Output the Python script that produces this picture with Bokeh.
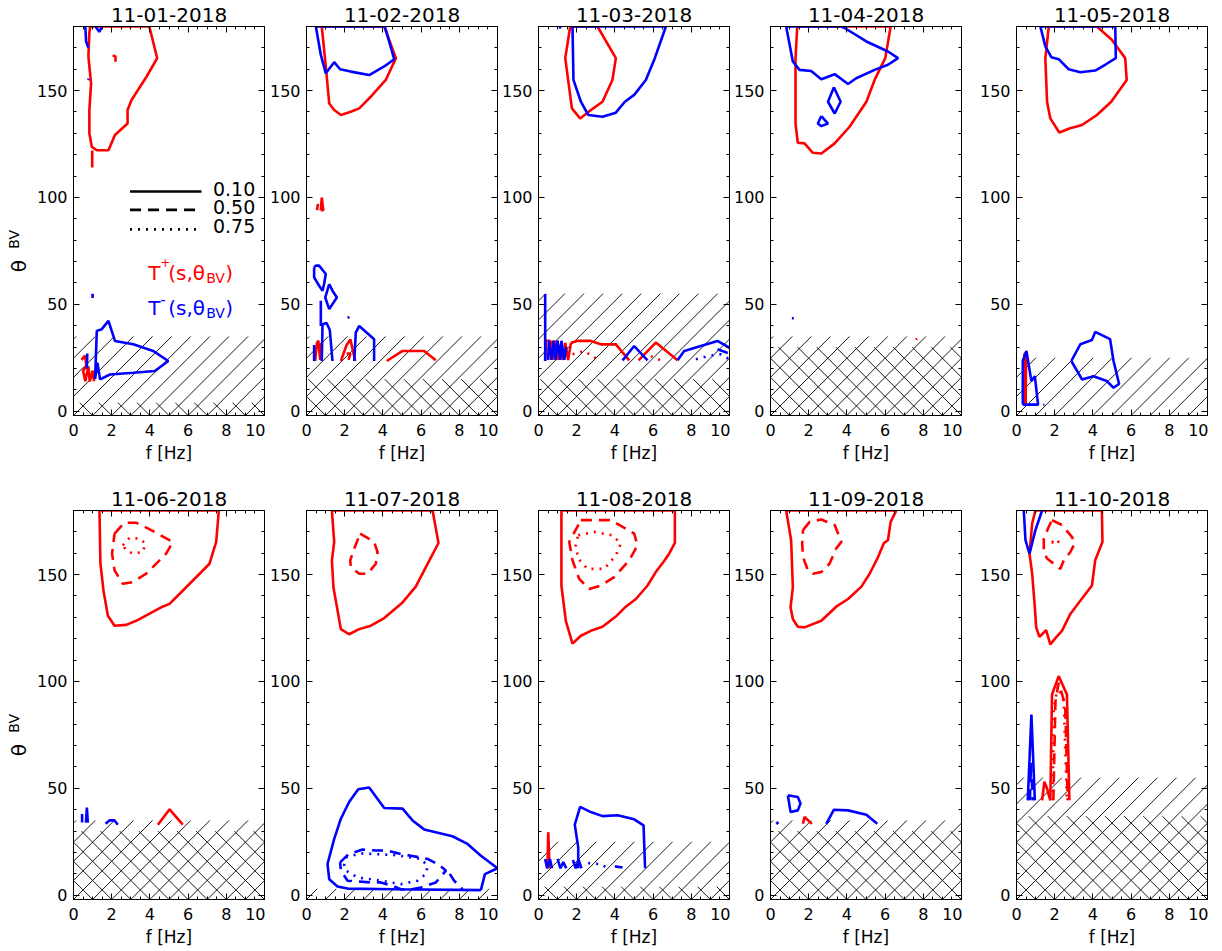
import math
from bokeh.plotting import figure
from bokeh.layouts import gridplot
from bokeh.models import FixedTicker, LinearAxis, Label, CustomJSTickFormatter, Title
from bokeh.embed import file_html
from bokeh.resources import INLINE

# ---------------- data ----------------
DATES = ["11-01-2018", "11-02-2018", "11-03-2018", "11-04-2018", "11-05-2018",
         "11-06-2018", "11-07-2018", "11-08-2018", "11-09-2018", "11-10-2018"]
HATCH_TOP = [35, 35, 55, 35, 25, 35, 3, 25, 35, 55]      # single hatch (theta limit)
CROSS_TOP = [4, 15, 15, 30, None, 30, None, 4, 30, 37]   # cross hatch
LEVELS = [0.10, 0.50, 0.75]
LEVEL_LABELS = ["0.10", "0.50", "0.75"]

# contour lines per day: (series, level, f [Hz], theta_BV)
C_1101 = [
    ("T+", 0.10, [0.87, 3.97, 4.38, 3.83, 3.04, 2.83, 2.83, 2.17, 1.83, 1.22, 0.96, 0.83, 0.83, 0.92, 0.78, 0.83, 0.87],
                 [180, 180, 165.2, 156.6, 145.6, 140.9, 134.6, 129.2, 122.1, 122.1, 123.7, 129.9, 140.9, 153.4, 166.0, 176.9, 180]),
    ("T+", 0.10, [2.05, 2.2, 2.2], [166.5, 166, 163.5]),
    ("T+", 0.10, [0.98, 0.98], [114, 122]),
    ("T+", 0.10, [0.42, 0.6, 0.68, 0.5, 0.62, 0.78, 0.85, 1.0, 1.08], [24, 26, 21, 19, 14, 21, 14, 19, 14]),
    ("T-", 0.10, [1.13, 1.22, 1.48, 1.83, 2.17, 3.13, 4.17, 4.96, 4.26, 3.13, 1.91, 1.39, 1.25, 1.13],
                 [15, 37.6, 38.4, 42.3, 32.9, 31.3, 28.2, 23.5, 18.8, 18.0, 17.2, 14.9, 22.7, 15]),
    ("T-", 0.10, [0.62, 0.66, 0.78], [180, 173, 170]),
    ("T-", 0.10, [1.15, 1.35, 1.5], [180, 177.5, 180]),
    ("T-", 0.10, [0.76, 0.8], [155, 155.5]),
    ("T-", 0.10, [1.0, 1.0], [53, 55]),
    ("T-", 0.10, [0.7, 0.72], [20, 27]),
]
C_1102 = [
    ("T+", 0.10, [0.80, 4.07, 4.68, 4.15, 3.37, 2.76, 2.32, 1.80, 1.45, 1.19, 1.01, 0.80],
                 [180, 180, 165.2, 155, 147.2, 141.7, 140.1, 138.6, 140.9, 144, 161.3, 180]),
    ("T+", 0.10, [0.55, 0.6], [94, 97]),
    ("T+", 0.10, [0.75, 0.8, 0.88, 0.75], [94, 100, 94, 94]),
    ("T+", 0.10, [0.45, 0.55, 0.62, 0.72, 0.78], [23.5, 32, 33, 24, 32]),
    ("T+", 0.10, [1.8, 2.1, 2.3, 2.55], [23.5, 31, 33.5, 23.5]),
    ("T+", 0.10, [2.1, 2.3, 2.2], [27, 27, 24]),
    ("T+", 0.10, [4.2, 5.03, 6.16, 6.77], [23.5, 28.2, 28.2, 23.8]),
    ("T-", 0.10, [0.49, 0.75, 1.01, 1.45, 1.76, 2.32, 3.28, 4.07, 4.59, 4.10, 0.49],
                 [180, 166.7, 158.1, 163.3, 160, 158.9, 157.3, 161.3, 164.7, 180, 180]),
    ("T-", 0.10, [0.40, 0.49, 0.66, 1.01, 0.92, 0.84, 0.66, 0.40, 0.40], [67.3, 68.1, 68.1, 64.2, 59.5, 56.4, 58.7, 62.6, 67.3]),
    ("T-", 0.10, [1.19, 1.36, 1.59, 1.36, 1.19, 0.98, 1.19], [59.5, 56.4, 53.2, 50.1, 47.8, 53.2, 59.5]),
    ("T-", 0.10, [0.75, 0.75], [39.9, 51.7]),
    ("T-", 0.10, [0.80, 0.84, 1.05, 1.22, 1.36], [23.5, 40.7, 41.3, 38, 23.5]),
    ("T-", 0.10, [0.4, 0.4], [23.5, 31]),
    ("T-", 0.10, [2.5, 2.58, 2.76, 3.54, 3.54], [23.5, 36.8, 39.9, 33.7, 23.5]),
    ("T-", 0.10, [2.15, 2.25], [43.8, 44]),
]
C_1103 = [
    ("T+", 0.10, [1.66, 3.09, 4.05, 3.87, 3.35, 2.74, 2.18, 1.75, 1.40, 1.66],
                 [180, 180, 165.2, 155, 144.8, 140.9, 137, 141.7, 165.2, 180]),
    ("T+", 0.10, [0.35, 0.4, 0.6, 0.65, 0.75, 0.85, 0.95, 1.05, 1.15, 1.3, 1.4, 1.55, 1.7],
                 [23.5, 33, 33, 24, 33, 24, 33, 24, 31, 24, 32, 24, 32]),
    ("T+", 0.10, [1.7, 2.04, 2.74, 3.26, 4.05, 4.75], [32, 32.9, 32.9, 31.3, 31.3, 23.8]),
    ("T+", 0.10, [5.24, 6.14, 7.28], [23.8, 32.1, 23.8]),
    ("T+", 0.75, [1.78, 2.39, 3.18], [26.6, 28.2, 23.8]),
    ("T+", 0.75, [5.88, 6.4], [25.8, 23.8]),
    ("T-", 0.10, [1.78, 1.83, 2.22, 2.60, 3.35, 4.05, 4.52, 5.01, 5.62, 6.09, 6.67, 1.78],
                 [180, 155, 144.8, 138.6, 137.8, 139.7, 144.8, 148, 155, 165.2, 180, 180]),
    ("T-", 0.10, [1.12, 1.15], [179, 181]),
    ("T-", 0.10, [0.35, 0.35], [23.5, 54.8]),
    ("T-", 0.10, [0.5, 0.55, 0.7, 0.8, 0.9, 1.0, 1.15, 1.2, 1.35, 1.45], [24, 33, 24, 33, 24, 33, 24, 33, 24, 30]),
    ("T-", 0.10, [4.4, 5.01, 5.71], [23.8, 30.5, 23.8]),
    ("T-", 0.10, [7.28, 7.63, 9.37, 10], [23.8, 28.2, 32.9, 29.7]),
    ("T-", 0.75, [8.24, 8.85, 9.55, 10], [24.3, 25.8, 26.6, 24.3]),
    ("T-", 0.50, [9.37, 10.0], [29, 27]),
]
C_1104 = [
    ("T+", 0.10, [1.40, 6.29, 6.01, 5.45, 5.02, 4.14, 3.36, 2.66, 2.22, 1.78, 1.43, 1.31, 1.31, 1.40],
                 [180, 180, 165.2, 155, 144.8, 133.1, 125.3, 120.6, 120.9, 125.3, 125.6, 134.6, 165.2, 180]),
    ("T+", 0.10, [7.62, 7.66], [33.5, 34]),
    ("T-", 0.10, [0.82, 1.17, 1.52, 2.13, 2.66, 3.36, 4.06, 4.49, 5.45, 6.15, 6.68, 6.15, 5.02, 3.88, 3.70, 0.82],
                 [180, 163.6, 159.7, 159.2, 155.3, 157.7, 153.1, 155.8, 159.7, 162.1, 165.2, 168.3, 173, 179.3, 180, 180]),
    ("T-", 0.10, [3.32, 3.67, 3.36, 3.01, 3.32], [151.6, 144.8, 139.3, 144.8, 151.6]),
    ("T-", 0.10, [2.66, 3.01, 2.66, 2.48, 2.66], [138.1, 134.6, 133.4, 134.6, 138.1]),
    ("T-", 0.10, [1.12, 1.22], [43.5, 43.5]),
]
C_1105 = [
    ("T+", 0.10, [1.69, 4.21, 4.99, 5.69, 5.77, 4.96, 4.21, 3.43, 2.77, 2.24, 1.77, 1.60, 1.51, 1.69],
                 [180, 180, 173.8, 165.2, 155, 144.8, 138.6, 133.9, 132.3, 130.4, 137, 144.8, 165.2, 180]),
    ("T+", 0.10, [0.38, 0.42, 0.5, 0.48, 0.38], [3, 27, 27, 3, 3]),
    ("T+", 0.10, [0.43, 0.45], [3, 27]),
    ("T-", 0.10, [1.25, 1.51, 1.83, 2.21, 2.73, 3.34, 4.12, 4.64, 5.2, 5.17, 1.25],
                 [180, 170.7, 165.6, 164.7, 160, 158.6, 159.4, 162.1, 165.2, 180, 180]),
    ("T-", 0.10, [0.33, 0.33, 0.52, 0.78, 0.96, 1.13, 0.33], [3.1, 23.5, 28.2, 14.1, 16.4, 3.1, 3.1]),
    ("T-", 0.10, [1.4, 1.46], [3, 3]),
    ("T-", 0.10, [2.87, 3.34, 3.95, 4.12, 4.9, 5.08, 5.37, 5.08, 4.73, 4.03, 3.43, 2.87],
                 [23.5, 31.3, 33.3, 37.1, 33.7, 23.5, 12.8, 11, 14.1, 16.4, 14.9, 23.5]),
]
C_1106 = [
    ("T+", 0.10, [1.36, 7.61, 7.47, 7.12, 5.90, 5.03, 4.59, 3.28, 2.76, 2.15, 1.80, 1.57, 1.41, 1.36],
                 [180, 180, 165.3, 155.1, 144.1, 136.3, 134.7, 128.4, 126.5, 126.1, 130.8, 142.5, 155.1, 180]),
    ("T+", 0.10, [4.42, 5.03, 5.72], [33, 40.2, 33]),
    ("T+", 0.50, [2.15, 2.67, 3.28, 4.07, 5.20, 4.85, 3.80, 3.11, 2.58, 2.15, 2.02, 2.15],
                 [169.2, 174.3, 174.3, 170.8, 165.3, 159.8, 150.4, 146.5, 145.7, 152.0, 159.8, 169.2]),
    ("T+", 0.75, [2.58, 2.93, 3.46, 3.77, 3.63, 3.11, 2.76, 2.58], [163.7, 167.2, 166.9, 164.5, 160.6, 159.8, 161.4, 163.7]),
    ("T-", 0.10, [0.45, 0.45], [34, 38]),
    ("T-", 0.10, [0.65, 0.7, 0.75], [34, 41, 34]),
    ("T-", 0.10, [1.68, 1.88, 2.15, 2.32], [33.4, 35, 35, 33]),
]
C_1107 = [
    ("T+", 0.10, [1.33, 6.60, 6.91, 6.25, 5.72, 5.03, 4.07, 3.37, 2.76, 2.23, 1.80, 1.41, 1.33, 1.45, 1.33],
                 [180, 180, 164.8, 153.5, 144.4, 137, 129.7, 126.1, 124.5, 122.1, 124.5, 144.1, 156.7, 165.3, 180]),
    ("T+", 0.50, [2.81, 3.54, 3.72, 3.63, 3.19, 2.76, 2.32, 2.29, 2.50, 2.81],
                 [169.2, 165.3, 160.6, 155.1, 150.4, 150.4, 153.5, 156.7, 162.2, 169.2]),
    ("T-", 0.10, [9.13, 9.34, 10, 9.13, 8.43, 7.64, 6.16, 5.55, 5.03, 4.07, 3.28, 2.71, 2.23, 1.80, 1.45, 1.10, 1.19, 1.62, 2.15, 4.59, 9.13],
                 [2.4, 9.9, 12.6, 18.5, 24, 27.6, 30.8, 35, 40.5, 40.8, 50.4, 49.6, 43.6, 35.8, 26.4, 14.6, 7.5, 4.1, 3.1, 2.8, 2.4]),
    ("T-", 0.50, [1.76, 2.2, 2.93, 3.63, 4.24, 4.94, 5.46, 6.34, 6.95, 7.3, 6.77, 5.99, 5.4, 4.94, 4.59, 3.89, 3.37, 2.15, 1.8, 1.76],
                 [15.4, 19.2, 21.4, 20.9, 20.9, 19.3, 18.5, 17, 14.1, 11.5, 6, 3.6, 2.6, 2.8, 4.1, 6, 6, 6.8, 11.5, 15.4]),
    ("T-", 0.50, [7.5, 7.73, 8.17], [10, 6.8, 2.8]),
    ("T-", 0.75, [2.06, 2.84, 4.59, 5.99, 6.34, 6.25, 5.81, 4.94, 3.89, 2.67, 2.06, 1.97, 2.06],
                 [17.7, 19.6, 18.8, 17, 13.8, 9.9, 6.8, 5.2, 6.8, 8.3, 11.5, 14.6, 17.7]),
]
C_1108 = [
    ("T+", 0.10, [1.20, 7.14, 7.14, 6.84, 6.54, 6.14, 5.71, 5.10, 4.57, 4.10, 3.35, 2.74, 2.22, 1.78, 1.43, 1.20, 1.20],
                 [180, 180, 164.8, 159.8, 155.9, 151.2, 144.9, 138.6, 135, 130.8, 125.6, 123.7, 121.4, 117.7, 128.4, 144.9, 180]),
    ("T+", 0.10, [0.47, 0.51, 0.58], [12.6, 29.5, 12.6]),
    ("T+", 0.50, [2.22, 3.09, 3.79, 5.01, 5.18, 4.75, 3.96, 3.26, 2.65, 2.13, 1.78, 1.61, 2.22],
                 [175.5, 175.5, 175.5, 169.2, 163.7, 156.7, 148.8, 144.9, 143.3, 148, 156.7, 165.3, 175.5]),
    ("T+", 0.75, [2.08, 2.91, 3.87, 4.31, 4.05, 3.44, 2.57, 2.08, 1.95, 2.08],
                 [168.4, 170, 168.4, 164.5, 159, 152.7, 152.7, 157.5, 163.7, 168.4]),
    ("T-", 0.10, [5.58, 5.50, 5.01, 4.14, 3.35, 2.74, 2.18, 1.90, 2.08, 2.08],
                 [12.6, 32.7, 35.5, 37.4, 37.0, 38.9, 41.3, 33, 22.4, 12.6]),
    ("T-", 0.10, [0.35, 0.45, 0.6, 0.7], [17, 12.6, 17, 12.6]),
    ("T-", 0.10, [1.0, 1.15, 1.3, 1.45], [17, 12.6, 15.5, 12.6]),
    ("T-", 0.10, [1.8, 1.95, 2.1, 2.25], [16.5, 12.6, 16.5, 12.6]),
    ("T-", 0.75, [2.6, 3.3, 3.6], [15, 14.5, 12.6]),
    ("T-", 0.50, [4.0, 4.4], [13.5, 13]),
]
C_1109 = [
    ("T+", 0.10, [0.82, 6.59, 6.29, 6.15, 5.94, 5.63, 5.19, 4.76, 4.06, 3.44, 2.66, 1.78, 1.43, 1.17, 1.05, 1.17, 1.08, 0.82],
                 [180, 180, 174.7, 166.1, 164.8, 158.2, 150.4, 144.4, 138.6, 135, 128.4, 125.3, 125.6, 129.2, 134.7, 144.1, 166.1, 180]),
    ("T+", 0.10, [1.70, 1.78, 2.17], [33.4, 36.6, 33.4]),
    ("T+", 0.50, [1.70, 2.05, 2.66, 3.36, 3.71, 3.44, 3.09, 2.66, 2.22, 1.96, 1.70, 1.66, 1.70],
                 [170.8, 174.7, 175.8, 173.2, 165.3, 162.2, 155.1, 151.2, 150.4, 152, 158.2, 164.5, 170.8]),
    ("T-", 0.10, [0.91, 1.43, 1.57, 1.43, 1.05, 0.91], [46.8, 46, 42.9, 39.7, 38.9, 46.8]),
    ("T-", 0.10, [2.92, 3.32, 4.06, 5.02, 5.59], [33.4, 40, 39.7, 37.7, 33.4]),
    ("T-", 0.10, [0.3, 0.42], [33.4, 34.2]),
]
C_1110 = [
    ("T+", 0.10, [0.99, 4.47, 4.50, 4.12, 3.95, 3.34, 2.82, 2.38, 2.07, 1.77, 1.55, 1.43, 1.20, 1.03, 0.96, 0.82, 0.68, 0.82, 0.99],
                 [180, 180, 165.3, 156.7, 144.9, 137.8, 131.6, 123.7, 120.6, 117.4, 124, 122.9, 120.9, 125.3, 134.7, 150.4, 159.8, 173.9, 180]),
    ("T+", 0.10, [1.77, 1.86, 2.21, 2.64, 2.77], [44.4, 93.9, 102.5, 93.9, 44.4]),
    ("T+", 0.10, [1.34, 1.46, 1.60, 1.77], [44.4, 53.1, 49.9, 44.4]),
    ("T+", 0.50, [1.86, 2.38, 2.90, 3.04, 2.82, 2.47, 2.30, 1.95, 1.60, 1.43, 1.43, 1.69, 1.86],
                 [175.5, 173.2, 167.7, 164.5, 160.6, 156.7, 152.7, 155.1, 157.5, 160.6, 166.9, 172.4, 175.5]),
    ("T+", 0.50, [1.93, 2.04, 2.21, 2.55, 2.68], [44.4, 90.7, 99.4, 89, 44.4]),
    ("T+", 0.75, [1.86, 2.0, 2.2, 2.1, 1.86], [165, 166.5, 165.5, 164, 165]),
    ("T+", 0.75, [1.9, 1.95, 2.17, 2.47, 2.64], [44.4, 87.6, 97.8, 90.7, 44.4]),
    ("T-", 0.10, [0.38, 0.47, 0.68, 0.99, 1.34], [180, 166.1, 159.8, 170.8, 180]),
    ("T-", 0.10, [0.59, 0.78, 0.96], [44.4, 84.5, 44.4]),
    ("T-", 0.50, [0.7, 0.76, 0.85], [44.4, 62, 44.4]),
]
CONTOURS = [C_1101, C_1102, C_1103, C_1104, C_1105, C_1106, C_1107, C_1108, C_1109, C_1110]

# ---------------- style ----------------
FONT = "DejaVu Sans"
COLORS = {"T+": "#ff0000", "T-": "#0000ff"}
DASH = {0.10: "solid", 0.50: "11 7", 0.75: "2 6"}
FRAME_W, FRAME_H = 191, 389
LEFT_BORDER = [39, 41, 40, 39, 54]
LABEL_COL_W = 33
TOP_BORDER = 20
BOTTOM_BORDER = [69, 52]
X_RANGE = (0, 10)
Y_RANGE = (-2, 180)
HATCH_STEP = 1.0   # horizontal spacing of hatch lines, in f units (~19 px)


def hidden_axis(ticker):
    ax = LinearAxis(ticker=ticker, formatter=CustomJSTickFormatter(code="return ''"))
    ax.major_label_standoff = 0
    ax.major_label_text_font_size = "1px"
    return ax


def hatch_segments(top, direction):
    """45-degree (in screen space) hatch lines filling y in [ymin, top], clipped to x range."""
    x_lo, x_hi = X_RANGE
    ymin = Y_RANGE[0]
    slope = (FRAME_W / (x_hi - x_lo)) / (FRAME_H / (Y_RANGE[1] - Y_RANGE[0]))  # data-y per data-x
    run = (top - ymin) / slope
    x0s, y0s, x1s, y1s = [], [], [], []
    k = -int(math.ceil(run / HATCH_STEP)) - 1
    while k * HATCH_STEP <= x_hi + run + HATCH_STEP:
        xb = k * HATCH_STEP
        if direction > 0:
            xs, ys = xb, ymin
            if xs < x_lo:
                ys, xs = ymin + slope * (x_lo - xb), x_lo
            xe, ye = xb + run, top
            if xe > x_hi:
                ye, xe = ymin + slope * (x_hi - xb), x_hi
            ok = xs <= x_hi and ys < top and xe >= x_lo
        else:
            xs, ys = xb, ymin
            if xs > x_hi:
                ys, xs = ymin + slope * (xb - x_hi), x_hi
            xe, ye = xb - run, top
            if xe < x_lo:
                ye, xe = ymin + slope * (xb - x_lo), x_lo
            ok = xs >= x_lo and ys < top and xe <= x_hi
        if ok and ye > ys:
            x0s.append(xs); y0s.append(ys); x1s.append(xe); y1s.append(ye)
        k += 1
    return x0s, y0s, x1s, y1s


def make_label_column(row):
    """Narrow axis-free figure carrying the rotated theta_BV label."""
    p = figure(x_range=(0, LABEL_COL_W), y_range=Y_RANGE, frame_width=LABEL_COL_W, frame_height=FRAME_H,
               min_border_left=0, min_border_right=0, min_border_top=TOP_BORDER,
               min_border_bottom=BOTTOM_BORDER[row], output_backend="svg", toolbar_location=None,
               background_fill_color="white", border_fill_color="white")
    p.axis.visible = False
    p.grid.visible = False
    p.outline_line_color = None
    p.add_layout(Label(x=18.5, y=65, text="θ", angle=math.pi / 2, text_align="left",
                       text_baseline="middle", text_font=FONT, text_font_size="20px", text_color="black"))
    p.add_layout(Label(x=13, y=76, text="BV", angle=math.pi / 2, text_align="left",
                       text_baseline="middle", text_font=FONT, text_font_size="14px", text_color="black"))
    return p


def make_panel(i):
    row, col = divmod(i, 5)
    p = figure(x_range=X_RANGE, y_range=Y_RANGE, frame_width=FRAME_W, frame_height=FRAME_H,
               min_border_left=LEFT_BORDER[col], min_border_right=1,
               min_border_top=TOP_BORDER, min_border_bottom=BOTTOM_BORDER[row],
               output_backend="svg", toolbar_location=None,
               background_fill_color="white", border_fill_color="white")
    p.title = Title(text=DATES[i], align="center", text_font=FONT, text_font_size="20px",
                    text_font_style="normal", text_color="black", standoff=10)
    p.xgrid.visible = False
    p.ygrid.visible = False
    p.outline_line_color = "black"
    p.outline_line_width = 1

    xt = FixedTicker(ticks=[0, 2, 4, 6, 8, 10], minor_ticks=[k * 0.5 for k in range(21)])
    yt = FixedTicker(ticks=[0, 50, 100, 150], minor_ticks=list(range(0, 181, 10)))
    left = p.left[0]
    bottom = p.below[0]
    left.ticker = yt
    bottom.ticker = xt
    p.add_layout(hidden_axis(yt), "right")
    p.add_layout(hidden_axis(xt), "above")
    for ax in [left, bottom, p.right[0], p.above[0]]:
        ax.major_tick_in = 6
        ax.major_tick_out = 0
        ax.minor_tick_in = 3
        ax.minor_tick_out = 0
        ax.axis_line_color = "black"
        ax.major_tick_line_color = "black"
        ax.minor_tick_line_color = "black"
    for ax in [left, bottom]:
        ax.major_label_text_font = FONT
        ax.major_label_text_font_size = "16px"
        ax.major_label_text_color = "black"
    left.major_label_standoff = 6
    bottom.major_label_standoff = 8
    bottom.axis_label = "f [Hz]"
    bottom.axis_label_text_font = FONT
    bottom.axis_label_text_font_size = "17px"
    bottom.axis_label_text_font_style = "normal"
    bottom.axis_label_text_color = "black"
    bottom.axis_label_standoff = 4

    # hatched regions: "/" up to HATCH_TOP, "\" up to CROSS_TOP
    x0, y0, x1, y1 = hatch_segments(HATCH_TOP[i], +1)
    p.segment(x0, y0, x1, y1, line_color="black", line_width=0.9)
    if CROSS_TOP[i] is not None:
        x0, y0, x1, y1 = hatch_segments(CROSS_TOP[i], -1)
        p.segment(x0, y0, x1, y1, line_color="black", line_width=0.9)

    # contours
    for series, level, xs, ys in CONTOURS[i]:
        p.line(xs, ys, line_color=COLORS[series], line_width=2.6, line_dash=DASH[level])
    return p


panels = [make_panel(i) for i in range(10)]

# legend in first panel
p0 = panels[0]
LEG_Y = [102.8, 94.2, 85.1]
for lev, lab, ly in zip(LEVELS, LEVEL_LABELS, LEG_Y):
    p0.line([2.96, 6.7], [ly, ly], line_color="black", line_width=2.6, line_dash=DASH[lev])
    p0.add_layout(Label(x=7.3, y=ly, y_offset=3, text=lab, text_font=FONT, text_font_size="19px",
                        text_baseline="alphabetic", text_color="black"))

for series, base_y, sign in [("T+", 60.2, "+"), ("T-", 43.8, "-")]:
    c = COLORS[series]
    parts = [("T", 0, 0, "20px"), (sign, 12, 10 if sign == "+" else 9, "12px" if sign == "+" else "15px"),
             ("(s,θ", 20, 0, "20px"), ("BV", 58, -5, "14px"), (")", 77, 0, "20px")]
    for txt, dx, dy, fs in parts:
        p0.add_layout(Label(x=3.91, y=base_y, x_offset=dx, y_offset=dy + 10, text=txt, text_font=FONT,
                            text_font_size=fs, text_baseline="alphabetic", text_color=c))

rows = [[make_label_column(0)] + panels[:5], [make_label_column(1)] + panels[5:]]
grid = gridplot(rows, toolbar_location=None)
open("out.html", "w").write(file_html(grid, INLINE))
